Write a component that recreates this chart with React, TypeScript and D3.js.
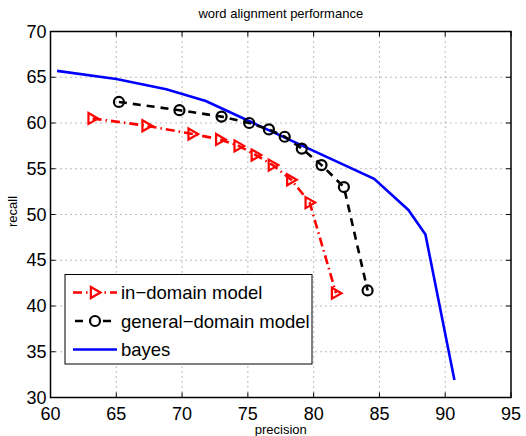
import * as d3 from 'd3';

const inDomainPrecision = [63.2, 67.3, 70.8, 72.9, 74.3, 75.6, 76.9, 78.3, 79.7, 81.7];
const inDomainRecall = [60.5, 59.7, 58.8, 58.2, 57.5, 56.5, 55.4, 53.8, 51.3, 41.4];

const generalPrecision = [65.2, 69.8, 73.0, 75.1, 76.6, 77.8, 79.1, 80.6, 82.3, 84.1];
const generalRecall = [62.3, 61.4, 60.7, 60.0, 59.3, 58.5, 57.2, 55.4, 53.0, 41.7];

const bayesPrecision = [60.5, 65.0, 68.8, 71.8, 84.6, 87.2, 88.5, 90.7];
const bayesRecall = [65.7, 64.8, 63.7, 62.4, 53.9, 50.5, 47.8, 31.9];

const xTicks = [60, 65, 70, 75, 80, 85, 90, 95];
const yTicks = [30, 35, 40, 45, 50, 55, 60, 65, 70];

const legendLabels = ['in\u2212domain model', 'general\u2212domain model', 'bayes'];

const font = '"Liberation Sans", Arial, Helvetica, sans-serif';

const left = 50.5;
const right = 511;
const top = 31.5;
const bottom = 397.5;

function zip(xs: number[], ys: number[]): [number, number][] {
  return xs.map((x, i) => [x, ys[i]]);
}

export default function App() {
  const x = d3.scaleLinear().domain([60, 95]).range([left, right]);
  const y = d3.scaleLinear().domain([30, 70]).range([bottom, top]);

  const line = d3.line<[number, number]>()
    .x(d => x(d[0]))
    .y(d => y(d[1]));

  const inDomain = zip(inDomainPrecision, inDomainRecall);
  const general = zip(generalPrecision, generalRecall);
  const bayes = zip(bayesPrecision, bayesRecall);

  // right-pointing triangle marker
  const tri = (cx: number, cy: number, s: number) =>
    `M${cx - s * 0.75},${cy - s} L${cx + s},${cy} L${cx - s * 0.75},${cy + s} Z`;

  const legend = { x0: 65, y0: 274.5, x1: 312, y1: 364 };
  const rowY = [292.5, 321, 349.5];

  return (
    <div style={{ position: 'absolute', left: 0, top: 0 }}>
      <svg width={526} height={436} style={{ display: 'block', background: '#fff' }} fontFamily={font}>
        <rect x={0} y={0} width={526} height={436} fill="#fff" />
        <text x={(left + right) / 2} y={18} textAnchor="middle" fontSize={13}>word alignment performance</text>

        {/* grid */}
        <g stroke="#555" strokeWidth={0.8} strokeDasharray="1,4">
          {xTicks.slice(1, -1).map(t => (
            <line key={'gx' + t} x1={x(t)} x2={x(t)} y1={top} y2={bottom} />
          ))}
          {yTicks.slice(1, -1).map(t => (
            <line key={'gy' + t} x1={left} x2={right} y1={y(t)} y2={y(t)} />
          ))}
        </g>

        {/* ticks */}
        <g stroke="#000" strokeWidth={1}>
          {xTicks.map(t => (
            <g key={'tx' + t}>
              <line x1={x(t)} x2={x(t)} y1={bottom} y2={bottom - 5} />
              <line x1={x(t)} x2={x(t)} y1={top} y2={top + 5} />
            </g>
          ))}
          {yTicks.map(t => (
            <g key={'ty' + t}>
              <line x1={left} x2={left + 5} y1={y(t)} y2={y(t)} />
              <line x1={right} x2={right - 5} y1={y(t)} y2={y(t)} />
            </g>
          ))}
        </g>

        {/* series */}
        <path d={line(bayes) || ''} fill="none" stroke="#0000ff" strokeWidth={2.6} />
        <path d={line(general) || ''} fill="none" stroke="#000" strokeWidth={2.6} strokeDasharray="8,6" />
        {general.map((d, i) => (
          <circle key={'c' + i} cx={x(d[0])} cy={y(d[1])} r={5} fill="none" stroke="#000" strokeWidth={2.2} />
        ))}
        <path d={line(inDomain) || ''} fill="none" stroke="#ff0000" strokeWidth={2.6} strokeDasharray="9,4,1.5,4" />
        {inDomain.map((d, i) => (
          <path key={'t' + i} d={tri(x(d[0]), y(d[1]), 5.5)} fill="none" stroke="#ff0000" strokeWidth={2.2} />
        ))}

        {/* frame */}
        <rect x={left} y={top} width={right - left} height={bottom - top} fill="none" stroke="#000" strokeWidth={1.5} />

        {/* tick labels */}
        <g fontSize={18} fill="#000">
          {xTicks.map(t => (
            <text key={'lx' + t} x={x(t)} y={bottom + 22} textAnchor="middle">{t}</text>
          ))}
          {yTicks.map(t => (
            <text key={'ly' + t} x={left - 4} y={y(t) + 6} textAnchor="end">{t}</text>
          ))}
        </g>

        <text x={(left + right) / 2} y={434} textAnchor="middle" fontSize={13}>precision</text>
        <text transform={`translate(17,${(top + bottom) / 2 - 3}) rotate(-90)`} textAnchor="middle" fontSize={13}>recall</text>

        {/* legend */}
        <rect x={legend.x0} y={legend.y0} width={legend.x1 - legend.x0} height={legend.y1 - legend.y0} fill="#fff" stroke="#000" strokeWidth={1} />
        <line x1={73} x2={117} y1={rowY[0]} y2={rowY[0]} stroke="#ff0000" strokeWidth={2.6} strokeDasharray="9,4,1.5,4" />
        <path d={tri(95, rowY[0], 5.5)} fill="#fff" stroke="#ff0000" strokeWidth={2.2} />
        <line x1={73} x2={117} y1={rowY[1]} y2={rowY[1]} stroke="#000" strokeWidth={2.6} strokeDasharray="8,6" strokeDashoffset={-2} />
        <circle cx={95} cy={rowY[1]} r={5} fill="#fff" stroke="#000" strokeWidth={2.2} />
        <line x1={73} x2={117} y1={rowY[2]} y2={rowY[2]} stroke="#0000ff" strokeWidth={2.6} />
        {legendLabels.map((s, i) => (
          <text key={'lg' + i} x={121} y={rowY[i] + 6.5} fontSize={18.5}>{s}</text>
        ))}
      </svg>
    </div>
  );
}
